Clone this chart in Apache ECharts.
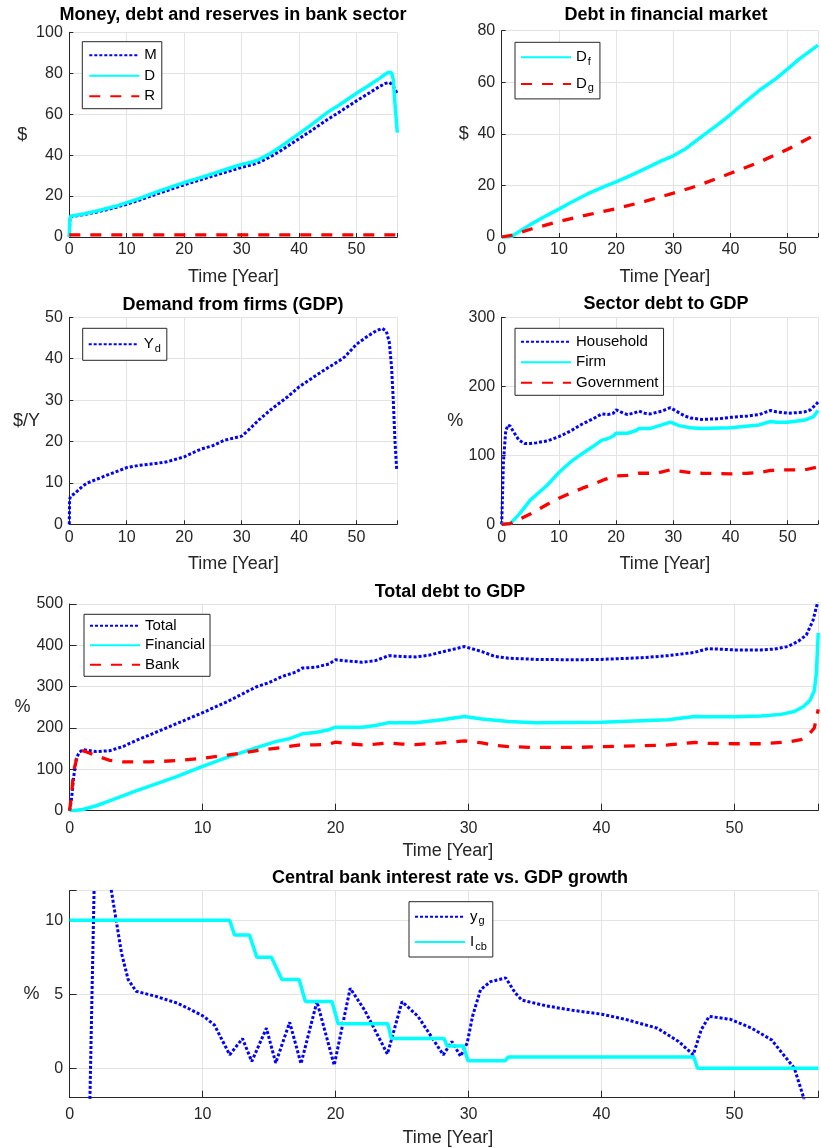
<!DOCTYPE html>
<html><head><meta charset="utf-8">
<script src="https://cdn.jsdelivr.net/npm/echarts@6/dist/echarts.min.js"></script>
<style>html,body{margin:0;padding:0;background:#fff}#c{width:821px;height:1148px}</style>
</head><body><div id="c"></div>
<script>
// ---------- Panel 1: Money, debt and reserves in bank sector ----------
const M_t = [0, 0.1, 0.3, 2, 5, 8, 10, 12, 15, 18, 20, 22, 25, 28, 30, 32, 33, 35, 37, 40, 42, 45, 47, 50, 52, 54, 55, 55.7, 56.2, 56.6, 57.1];
const M_v = [0, 9, 10, 10.7, 12.3, 14.4, 16, 17.8, 20.8, 23.6, 25.5, 27.2, 29.8, 32.3, 34, 35.5, 36.4, 39.2, 42.5, 48, 51.7, 57.5, 61, 66.5, 70, 73.5, 75, 75.5, 74.5, 72.5, 70];
const D_t = [0, 0.1, 0.3, 2, 5, 8, 10, 12, 15, 18, 20, 22, 25, 28, 30, 32, 33, 35, 37, 40, 42, 45, 47, 50, 52, 54, 55, 55.6, 56.1, 56.4, 56.7, 57.1];
const D_v = [0, 9, 10.3, 11, 12.8, 15, 16.8, 18.6, 21.8, 24.7, 26.6, 28.3, 31, 33.7, 35.5, 36.8, 37.8, 40.8, 44.5, 50.5, 54.5, 61, 64.5, 70.2, 73.8, 77.5, 79.5, 80.5, 80.3, 77, 65, 51];
const R_t = [0, 57.1];
const R_v = [1, 1];

// ---------- Panel 2: Debt in financial market ----------
const Df_t = [0, 1, 1.8, 3, 5, 8, 10, 12, 15, 18, 20, 22, 25, 28, 30, 32, 35, 38, 40, 42, 45, 48, 50, 52, 54, 55.3];
const Df_v = [0, 0, 0.3, 2, 4.8, 8.5, 10.8, 13.3, 16.7, 19.6, 21.4, 23.3, 26.4, 29.6, 31.5, 34, 39, 44, 47.5, 51.3, 56.8, 61.5, 65.2, 69, 72.3, 74.4];
const Dg_t = [0, 2, 5, 10, 15, 20, 25, 30, 33, 35, 40, 45, 50, 55.3];
const Dg_v = [0, 0.8, 3, 6, 8.6, 11, 13.8, 17, 19, 20.5, 24.7, 29, 34, 40.2];

// ---------- Panel 3: Demand from firms (GDP) ----------
const Yd_t = [0, 0.05, 0.2, 1, 2, 3, 5, 7, 10, 12, 15, 17, 19, 20, 22, 23, 25, 27, 30, 31, 33, 35, 38, 40, 43, 45, 47, 48, 50, 52, 53.5, 54.5, 55.2, 55.7, 56.1, 56.4, 56.7, 57];
const Yd_v = [0, 6, 6.7, 7.5, 8.8, 9.9, 11, 12.1, 13.7, 14.2, 14.7, 15.1, 15.9, 16.3, 17.6, 18.2, 19, 20.3, 21.3, 22.5, 25.2, 27.6, 30.8, 33.2, 36, 37.8, 39.5, 40.5, 43.5, 45.5, 46.8, 47.3, 46.6, 44, 38, 30, 20, 13.1];

// ---------- Panel 4: Sector debt to GDP ----------
const Hh_t = [0, 0.3, 0.7, 1.1, 1.5, 2, 3, 4, 5, 6, 8, 10, 12, 14, 16, 17.5, 18.5, 19.5, 20, 21, 22, 23, 24, 25, 26, 27, 28, 29.5, 30.5, 32, 33, 35, 38, 40, 43, 45, 47, 48, 50, 52, 53, 54, 55.3];
const Hh_v = [0, 90, 135, 144, 142, 135, 122, 117, 117, 118, 121, 127, 135, 145, 153, 160, 159, 161, 166, 162, 159, 161, 164, 161, 160, 162, 164, 169, 164, 157, 154, 152, 153, 155, 157, 159, 165, 163, 161, 162, 163, 166, 177];
const Fi_t = [0, 1.5, 3, 5, 8, 10, 12, 14, 16, 17.5, 18.5, 19.5, 20, 22, 23.5, 24, 26, 28, 29.5, 31, 33, 35, 40, 45, 47, 48, 50, 53, 54.5, 55.3];
const Fi_v = [0, 1, 14, 35, 57, 75, 90, 102, 113, 122, 124, 128, 132, 132, 136, 139, 139, 144, 148, 143, 140, 139, 140, 144, 149, 148, 148, 151, 156, 165];
const Gv_t = [0, 1.5, 3, 5, 8, 10, 12, 14, 16, 18, 20, 22, 24, 27, 29.5, 31, 33, 35, 40, 43, 45, 47, 50, 53, 55.3];
const Gv_v = [0, 1, 7, 15, 29, 37.7, 45, 52, 58, 65, 70, 71, 74, 74, 79, 77, 75, 74, 73, 74, 75, 78, 79, 79, 83];

// ---------- Panel 5: Total debt to GDP ----------
const Tot_t = [0, 0.15, 0.3, 0.5, 0.7, 1, 2, 3, 4, 5, 6, 8, 10, 12, 14, 15, 16, 17, 17.5, 18.5, 19.5, 20, 21, 22, 23, 24, 25, 26, 27, 28, 29.7, 31, 32, 33, 35, 38, 40, 43, 45, 47, 48, 50, 52, 53, 54, 54.8, 55.4, 55.9, 56.3];
const Tot_v = [0, 30, 80, 125, 140, 148, 143, 145, 155, 170, 183, 210, 237, 266, 299, 310, 325, 335, 345, 347, 355, 365, 362, 359, 363, 375, 373, 372, 376, 384, 397, 385, 373, 369, 366, 365, 366, 370, 375, 383, 392, 389, 389, 391, 397, 410, 425, 460, 510];
const Fin_t = [0, 0.5, 1, 2, 3, 5, 8, 10, 12, 14, 15.5, 16.5, 17.5, 18.5, 19.5, 20, 22, 23, 24, 26, 28, 29.7, 31, 33, 35, 40, 45, 47, 48, 50, 52, 53.5, 54.5, 55.2, 55.7, 56, 56.15, 56.3];
const Fin_v = [0, 1, 3, 12, 24, 48, 82, 107, 131, 152, 167, 174, 186, 189, 196, 202, 202, 206, 213, 213, 220, 228, 222, 216, 213, 214, 220, 228, 227, 227, 229, 233, 240, 252, 268, 290, 330, 430];
const Bank_t = [0, 0.15, 0.3, 0.6, 0.9, 1.2, 2, 3, 4, 6, 8, 10, 12, 14, 16, 17.5, 18.5, 19.5, 20, 21, 22, 23, 24, 25, 26, 27, 28, 29.7, 31, 32, 33, 35, 38, 40, 43, 45, 47, 48, 50, 52, 53, 54, 55, 55.6, 56, 56.3];
const Bank_v = [0, 40, 95, 135, 146, 143, 133, 122, 118, 118, 121, 127, 135, 145, 153, 160, 159, 161, 166, 162, 159, 161, 164, 161, 160, 162, 164, 169, 164, 158, 155, 153, 153, 155, 157, 159, 165, 163, 162, 162, 164, 166, 172, 185, 200, 245];

// ---------- Panel 6: Central bank interest rate vs. GDP growth ----------
const yg_t = [1.13, 2.24, 3.14, 3.5, 3.9, 4.4, 5, 6.5, 8.1, 8.9, 10.1, 10.9, 12.04, 13.0, 13.7, 14.8, 15.5, 16.55, 17.4, 18.6, 19.9, 21.1, 22.2, 23.9, 25.0, 26.2, 28.1, 28.75, 29.4, 29.9, 30.3, 30.9, 31.65, 32.8, 33.5, 34, 35.9, 37.9, 40, 41.8, 44.2, 45.8, 46.9, 47.5, 48.1, 49.7, 51.3, 52.8, 53.6, 54.5, 55.2, 55.6];
const yg_v = [-20, 30, 12, 10, 7.8, 6, 5.2, 4.85, 4.4, 4.05, 3.5, 2.9, 0.9, 2.0, 0.45, 2.7, 0.35, 3.1, 0.3, 4.5, 0.2, 5.4, 3.9, 0.95, 4.5, 3.5, 0.9, 1.8, 0.8, 1.7, 3.5, 5.3, 5.85, 6.1, 5.1, 4.6, 4.2, 3.9, 3.65, 3.3, 2.7, 1.8, 0.9, 2.6, 3.5, 3.3, 2.7, 1.9, 1.0, 0, -2, -5];
const Icb_t = [0, 12.04, 12.4, 13.53, 14.08, 15.18, 15.96, 17.26, 17.73, 19.73, 20.2, 23.93, 24.2, 28.16, 28.4, 29.61, 29.96, 32.75, 33.0, 46.94, 47.22, 56.3];
const Icb_v = [10, 10, 9, 9, 7.5, 7.5, 6, 6, 4.5, 4.5, 3, 3, 2, 2, 1.5, 1.5, 0.5, 0.5, 0.75, 0.75, 0, 0];

// ---------- rendering ----------
const zip = (t, v) => t.map((x, i) => [x, v[i]]);
const FONT = '"Liberation Sans", Arial, Helvetica, sans-serif';
const AX = '#262626';
const GRIDC = '#e3e3e3';
const BLUE = { color: '#0000ff', width: 3, type: [3, 2] };
const CYAN = { color: '#00ffff', width: 3.5, type: 'solid' };
const RED = { color: '#ff0000', width: 3.3, type: [11, 10] };

const panels = [
  { title: 'Money, debt and reserves in bank sector', tx: 233, ty: 6,
    grid: { left: 69.3, top: 32.3, width: 328, height: 204.7 },
    xmax: 57.1, ymin: 0, ymax: 100, yint: 20, tick: 4, xNameGap: 31, xNamePad: 0, xLabM: 5,
    yName: '$', yNameGap: 42, yNamePadB: 23,
    series: [['M', M_t, M_v, BLUE], ['D', D_t, D_v, CYAN], ['R', R_t, R_v, RED]],
    legend: { left: 82.3, top: 41.7, gap: 5.5, pad: [6, 5, 5, 6] } },
  { title: 'Debt in financial market', tx: 666, ty: 6,
    grid: { left: 501.7, top: 30.7, width: 319.3, height: 206.3 },
    xmax: 55.29, ymin: 0, ymax: 80, yint: 20, tick: 4, xNameGap: 31, xNamePad: 10, xLabM: 5,
    yName: '$', yNameGap: 33, yNamePadB: 20,
    series: [['Df', Df_t, Df_v, CYAN], ['Dg', Dg_t, Dg_v, RED]],
    legend: { left: 515, top: 42.3, gap: 6.6, pad: [5, 6, 5, 5] } },
  { title: 'Demand from firms (GDP)', tx: 233, ty: 296,
    grid: { left: 69.3, top: 317.3, width: 328, height: 207 },
    xmax: 57.1, ymin: 0, ymax: 50, yint: 10, tick: 4, xNameGap: 31, xNamePad: 0, xLabM: 5,
    yName: '$/Y', yNameGap: 29, yNamePadB: 25,
    series: [['Yd', Yd_t, Yd_v, BLUE]],
    legend: { left: 82.7, top: 328.3, gap: 5, pad: [6, 6, 6, 5] } },
  { title: 'Sector debt to GDP', tx: 666, ty: 295,
    grid: { left: 501.7, top: 317.3, width: 319.3, height: 207 },
    xmax: 55.29, ymin: 0, ymax: 300, yint: 100, tick: 4, xNameGap: 31, xNamePad: 10, xLabM: 5,
    yName: '%', yNameGap: 38.5, yNamePadB: 25,
    series: [['Household', Hh_t, Hh_v, BLUE], ['Firm', Fi_t, Fi_v, CYAN], ['Government', Gv_t, Gv_v, RED]],
    legend: { left: 515, top: 328.3, gap: 5.5, pad: [6, 5, 5, 5] } },
  { title: 'Total debt to GDP', tx: 450, ty: 582.7,
    grid: { left: 69.6, top: 604, width: 751.4, height: 206.7 },
    xmax: 56.28, ymin: 0, ymax: 500, yint: 100, tick: 7, xNameGap: 31.5, xNamePad: 8, xLabM: 9.5,
    yName: '%', yNameGap: 38, yNamePadB: 18,
    series: [['Total', Tot_t, Tot_v, BLUE], ['Financial', Fin_t, Fin_v, CYAN], ['Bank', Bank_t, Bank_v, RED]],
    legend: { left: 84, top: 614.3, gap: 4.5, pad: [4, 5, 4, 5] } },
  { title: 'Central bank interest rate vs. GDP growth', tx: 450, ty: 869.3,
    grid: { left: 69.6, top: 890.7, width: 751.4, height: 207 },
    xmax: 56.28, ymin: -2, ymax: 12, yint: null, tick: 7, xNameGap: 31, xNamePad: 8, xLabM: 9.3,
    yName: '%', yNameGap: 26.5, yNamePadB: 17,
    series: [['yg', yg_t, yg_v, BLUE], ['Icb', Icb_t, Icb_v, CYAN]],
    legend: { left: 409, top: 901.7, gap: 5.3, pad: [5, 6, 5, 5] } }
];

const SUBS = { Df: ['D', 'f'], Dg: ['D', 'g'], Yd: ['Y', 'd'], yg: ['y', 'g'], Icb: ['I', 'cb'] };
const rich = {
  m: { fontSize: 15, lineHeight: 15, color: '#000', fontFamily: FONT },
  s: { fontSize: 11, lineHeight: 11, padding: [9, 0, 0, 1], color: '#000', fontFamily: FONT }
};
const legendFmt = n => SUBS[n] ? '{m|' + SUBS[n][0] + '}{s|' + SUBS[n][1] + '}' : '{m|' + n + '}';

const option = {
  backgroundColor: '#ffffff', animation: false,
  title: [], grid: [], xAxis: [], yAxis: [], series: [], legend: []
};

panels.forEach((p, i) => {
  option.title.push({ text: p.title, left: p.tx, top: p.ty, textAlign: 'center', padding: 0,
    textStyle: { fontSize: 18, fontWeight: 'bold', color: '#000', fontFamily: FONT } });
  option.grid.push(Object.assign({ containLabel: false }, p.grid));
  option.xAxis.push({
    gridIndex: i, type: 'value', min: 0, max: p.xmax, interval: 10,
    axisLine: { show: true, onZero: false, lineStyle: { color: AX, width: 1 } },
    axisTick: { show: true, inside: true, length: p.tick, lineStyle: { color: AX } },
    axisLabel: { color: AX, fontSize: 16, fontFamily: FONT, margin: p.xLabM,
      formatter: v => (Math.abs(v % 10) < 1e-9 ? String(v) : '') },
    splitLine: { show: true, lineStyle: { color: GRIDC, width: 1 } },
    name: 'Time [Year]', nameLocation: 'middle', nameGap: p.xNameGap,
    nameTextStyle: { fontSize: 18, color: AX, fontFamily: FONT, padding: [0, 0, 0, p.xNamePad] }
  });
  const ya = {
    gridIndex: i, type: 'value', min: p.ymin, max: p.ymax,
    axisLine: { show: true, lineStyle: { color: AX, width: 1 } },
    axisTick: { show: true, inside: true, length: p.tick, lineStyle: { color: AX } },
    axisLabel: { color: AX, fontSize: 16, fontFamily: FONT, margin: 6.5,
      formatter: v => (p.yint ? String(v) : (Math.abs(v % 5) < 1e-9 ? String(v) : '')) },
    splitLine: { show: true, lineStyle: { color: GRIDC, width: 1 } },
    name: p.yName, nameLocation: 'middle', nameRotate: 0, nameGap: p.yNameGap,
    nameTextStyle: { fontSize: 18, color: AX, fontFamily: FONT, padding: [0, 0, p.yNamePadB, 0] }
  };
  if (p.yint) ya.interval = p.yint; else ya.splitNumber = 3;
  option.yAxis.push(ya);
  p.series.forEach(s => {
    option.series.push({
      type: 'line', name: s[0], xAxisIndex: i, yAxisIndex: i,
      data: zip(s[1], s[2]), symbol: 'none', showSymbol: false, smooth: false,
      lineStyle: s[3], itemStyle: { color: s[3].color }, silent: true, clip: true
    });
  });
  option.legend.push({
    data: p.series.map(s => s[0]), orient: 'vertical', left: p.legend.left, top: p.legend.top,
    itemWidth: 50, itemHeight: 14, itemGap: p.legend.gap, padding: p.legend.pad,
    backgroundColor: '#fff', borderColor: AX, borderWidth: 1, borderRadius: 0,
    selectedMode: false, itemStyle: { opacity: 0 },
    formatter: legendFmt,
    textStyle: { fontSize: 15, color: '#000', fontFamily: FONT, rich: rich }
  });
});

const chart = echarts.init(document.getElementById('c'), null, { renderer: 'canvas', width: 821, height: 1148 });
chart.setOption(option);
</script></body></html>
